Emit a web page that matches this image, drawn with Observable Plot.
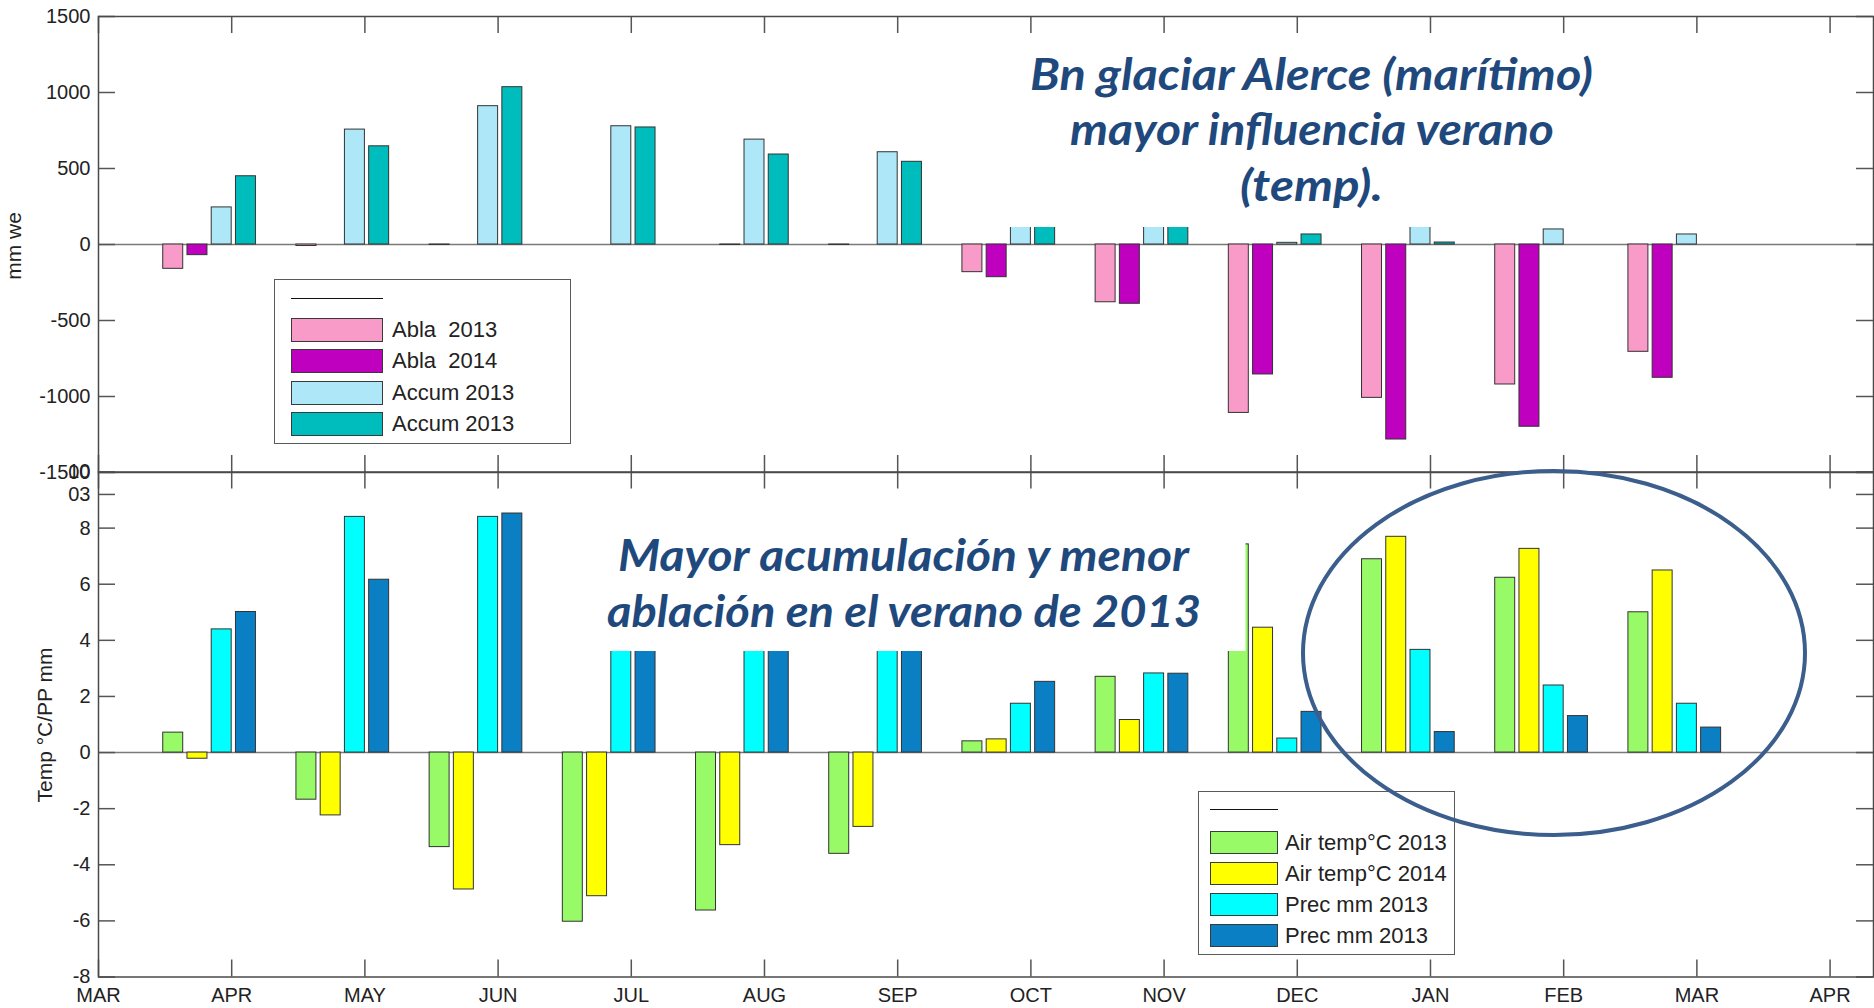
<!DOCTYPE html>
<html><head><meta charset="utf-8">
<script src="https://cdn.jsdelivr.net/npm/d3@7"></script>
<script src="https://cdn.jsdelivr.net/npm/@observablehq/plot@0.6"></script>
<style>
html,body{margin:0;padding:0;background:#fff;}
#wrap{position:relative;width:1874px;height:1008px;overflow:hidden;font-family:"Liberation Sans",Arial,sans-serif;background:#fff;}
.legend{position:absolute;border:1.5px solid #5a5a5a;background:#fff;box-sizing:border-box;}
.legend .ln{position:absolute;height:0;border-top:1.5px solid #111;}
.legend .sw{position:absolute;box-sizing:border-box;border:1.5px solid #3a3a3a;}
.legend .lb{position:absolute;font-size:22px;color:#222;line-height:24px;white-space:pre;}
</style></head><body><div id="wrap"></div>
<script>
// ---------- data ----------
const groups = ["APR","MAY","JUN","JUL","AUG","SEP","OCT","NOV","DEC","JAN","FEB","MAR"];
const monthLabels = ["MAR","APR","MAY","JUN","JUL","AUG","SEP","OCT","NOV","DEC","JAN","FEB","MAR","APR"];

// top panel: mass balance (mm we)
const abla2013  = [-160, -10,  -3,   0,   0,  -3, -182, -380, -1108, -1009,  -921, -706];
const abla2014  = [ -70,   0,   0,   0,  -3,   0, -215, -390,  -855, -1283, -1199, -877];
const accum2013a= [ 244, 756, 910, 778, 690, 607,  300,  350,    11,   200,    99,   66];
const accum2013b= [ 449, 646,1035, 770, 592, 544,  280,  330,    66,    13,     0,    0];
const topNames  = ["Abla  2013","Abla  2014","Accum 2013","Accum 2013"];
const topTicks  = [-1500,-1000,-500,0,500,1000,1500];
const topTitle  = "mm we";

// bottom panel: temperature / precipitation
const airT2013  = [0.71,-1.68,-3.37,-6.03,-5.63,-3.61,0.40,2.70,7.42,6.89,6.23,5.00];
const airT2014  = [-0.22,-2.24,-4.88,-5.12,-3.30,-2.65,0.47,1.16,4.45,7.69,7.26,6.49];
const prec2013a = [4.39,8.40,8.40,7.0,6.2,5.6,1.74,2.82,0.50,3.66,2.39,1.74];
const prec2013b = [5.01,6.16,8.52,6.6,5.8,5.2,2.52,2.81,1.45,0.73,1.30,0.89];
const botNames  = ["Air temp°C 2013","Air temp°C 2014","Prec mm 2013","Prec mm 2013"];
const botTickValues = [-8,-6,-4,-2,0,2,4,6,8,9.2,10];
const botTickLabels = ["-8","-6","-4","-2","0","2","4","6","8","03","10"];
const botTitle  = "Temp °C/PP mm";

// ---------- styling / layout ----------
const topColors = ["#f99bc8","#bf00bf","#aee8f8","#00bdbd"];
const botColors = ["#98fa66","#ffff00","#00ffff","#0b7fc3"];
const OFF = [0.561, 0.743, 0.925, 1.107];   // bar offsets within a month group
const BW = 0.15;                            // bar width (month units)
const W = 1874, ML = 98, MR = 1;
const innerW = W - ML - MR;
const xDomain = [0, 13.326];
const monthIdx = d3.range(monthLabels.length);
const FONT = "'Liberation Sans', Arial, sans-serif";
const TL = 17; // tick length px

function barsOf(seriesArrays) {
  const out = [];
  seriesArrays.forEach((arr, s) => arr.forEach((v, k) => out.push({
    key: "s" + s, v, x1: k + OFF[s] - BW / 2, x2: k + OFF[s] + BW / 2
  })));
  return out;
}

function panel({bars, colors, yDomain, ticks, fmt, height, mt, mb, xAxis}) {
  const innerH = height - mt - mb;
  return Plot.plot({
    width: W, height, marginLeft: ML, marginRight: MR, marginTop: mt, marginBottom: mb,
    style: {background: "transparent", fontSize: "20px", fontFamily: FONT, color: "#222", overflow: "visible"},
    x: xAxis ? {domain: xDomain, ticks: monthIdx, tickFormat: i => monthLabels[i], tickSize: 0, tickPadding: 11, label: null}
             : {domain: xDomain, axis: null},
    y: {domain: yDomain, ticks, tickFormat: fmt, tickSize: 0, tickPadding: 8, label: null},
    color: {domain: ["s0","s1","s2","s3"], range: colors},
    marks: [
      Plot.ruleY([0], {stroke: "#7a7a7a", strokeWidth: 1.5}),
      Plot.rect(bars, {x1: "x1", x2: "x2", y1: 0, y2: "v", fill: "key", stroke: "#333", strokeWidth: 1}),
      Plot.tickX(monthIdx, {x: d => d, stroke: "#555", strokeWidth: 1.5, insetBottom: innerH - TL}),
      Plot.tickX(monthIdx, {x: d => d, stroke: "#555", strokeWidth: 1.5, insetTop: innerH - TL}),
      Plot.tickY(ticks, {y: d => d, stroke: "#555", strokeWidth: 1.5, insetRight: innerW - TL}),
      Plot.tickY(ticks, {y: d => d, stroke: "#555", strokeWidth: 1.5, insetLeft: innerW - TL}),
      Plot.frame({stroke: "#4a4a4a", strokeWidth: 1.5})
    ]
  });
}

const wrap = document.getElementById("wrap");

const topPlot = panel({
  bars: barsOf([abla2013, abla2014, accum2013a, accum2013b]), colors: topColors,
  yDomain: [-1500, 1500], ticks: topTicks, fmt: d => String(d),
  height: 490, mt: 16, mb: 18, xAxis: false
});
topPlot.style.position = "absolute"; topPlot.style.top = "0px"; topPlot.style.left = "0px";
wrap.appendChild(topPlot);

const botFmtMap = new Map(botTickValues.map((v, i) => [v, botTickLabels[i]]));
const botPlot = panel({
  bars: barsOf([airT2013, airT2014, prec2013a, prec2013b]), colors: botColors,
  yDomain: [-8, 10], ticks: botTickValues, fmt: d => botFmtMap.get(d),
  height: 568, mt: 31.5, mb: 31.5, xAxis: true
});
botPlot.style.position = "absolute"; botPlot.style.top = "440px"; botPlot.style.left = "0px";
wrap.appendChild(botPlot);

// ---------- annotations (axis titles, white boxes + text) ----------
const NS = "http://www.w3.org/2000/svg";
function svgEl(tag, attrs, parent) {
  const e = document.createElementNS(NS, tag);
  for (const k in attrs) e.setAttribute(k, attrs[k]);
  if (parent) parent.appendChild(e);
  return e;
}
const ann = svgEl("svg", {width: W, height: 1008, style: "position:absolute;left:0;top:0;overflow:visible"});
wrap.appendChild(ann);

// axis titles
for (const [t, cx, cy] of [[topTitle, 14, 246], [botTitle, 45, 725]]) {
  const e = svgEl("text", {transform: `translate(${cx},${cy}) rotate(-90)`, "text-anchor": "middle",
    dy: "0.35em", fill: "#222", "font-family": FONT, "font-size": 21}, ann);
  e.textContent = t;
}

svgEl("rect", {x: 960, y: 40, width: 680, height: 187, fill: "#fff"}, ann);
svgEl("rect", {x: 590, y: 520, width: 655.5, height: 131, fill: "#fff"}, ann);
const annText = [
  ["Bn glaciar Alerce (marítimo)", 1030, 90, 563],
  ["mayor influencia verano", 1070, 145, 484],
  ["(temp).", 1240, 201, 143],
  ["Mayor acumulación y menor", 618, 571, 571],
  ["ablación en el verano de 2013", 607, 627, 594]
];
for (const [t, x, y, len] of annText) {
  const e = svgEl("text", {x, y, textLength: len, lengthAdjust: "spacingAndGlyphs",
    fill: "#1f497d", "font-family": "Lato, 'Open Sans', sans-serif", "font-weight": 700,
    "font-style": "italic", "font-size": 44}, ann);
  e.textContent = t;
}

// ---------- legends ----------
function legend(names, colors, box) {
  const d = document.createElement("div");
  d.className = "legend";
  Object.assign(d.style, {left: box.x + "px", top: box.y + "px", width: box.w + "px", height: box.h + "px"});
  const ln = document.createElement("div"); ln.className = "ln";
  Object.assign(ln.style, {left: box.sx + "px", top: box.ly + "px", width: box.sw + "px"});
  d.appendChild(ln);
  names.forEach((n, i) => {
    const top = box.r0 + i * box.pitch;
    const sw = document.createElement("div"); sw.className = "sw";
    Object.assign(sw.style, {left: box.sx + "px", top: top + "px", width: box.sw + "px", height: box.sh + "px", background: colors[i]});
    d.appendChild(sw);
    const lb = document.createElement("div"); lb.className = "lb"; lb.textContent = n;
    Object.assign(lb.style, {left: box.tx + "px", top: (top + box.sh / 2 - 12) + "px"});
    d.appendChild(lb);
  });
  wrap.appendChild(d);
}
legend(topNames, topColors, {x: 274, y: 279, w: 297, h: 165, sx: 16, sw: 92, ly: 18, r0: 38, pitch: 31.3, sh: 24, tx: 117});
legend(botNames, botColors, {x: 1198, y: 791, w: 257, h: 164, sx: 11, sw: 68, ly: 17, r0: 39, pitch: 31, sh: 23, tx: 86});

// ---------- ellipse highlight ----------
const ell = svgEl("svg", {width: W, height: 1008, style: "position:absolute;left:0;top:0;overflow:visible;pointer-events:none"});
wrap.appendChild(ell);
svgEl("ellipse", {cx: 1554, cy: 653, rx: 251, ry: 182, fill: "none", stroke: "#3b5e8c", "stroke-width": 4}, ell);
</script>
</body></html>
